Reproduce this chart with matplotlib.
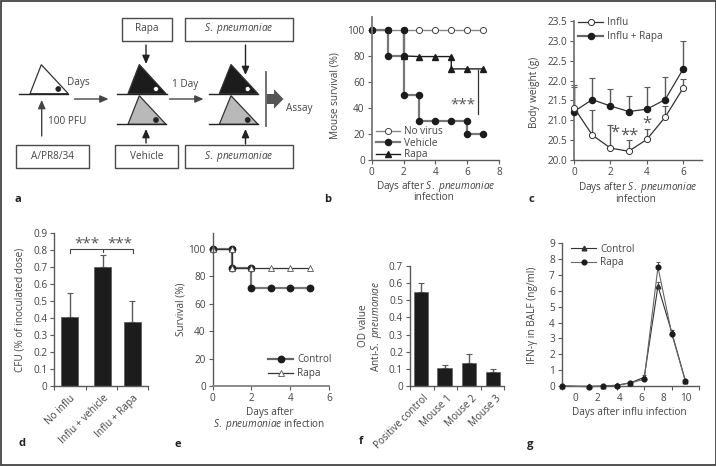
import matplotlib
matplotlib.use('Agg')
import matplotlib.pyplot as plt
from matplotlib.patches import Polygon, Rectangle, Circle

plt.rcParams['font.family'] = ['Open Sans', 'DejaVu Sans']
plt.rcParams['mathtext.fontset'] = 'custom'
plt.rcParams['mathtext.it'] = 'Open Sans:italic'
plt.rcParams['mathtext.rm'] = 'Open Sans'

W, H = 716, 467
TXT = '#444444'
AX = '#5a5a5a'
FS = 7.2
SP = r'$\it{S.\ pneumoniae}$'

# panel b
b_days = [0, 1, 2, 3, 4, 5, 6, 7]
b_novirus = [100, 100, 100, 100, 100, 100, 100, 100]
b_veh_x = [0, 1, 1, 2, 2, 2, 3, 3, 4, 5, 6, 6, 7]
b_veh_y = [100, 100, 80, 80, 100, 50, 50, 30, 30, 30, 30, 20, 20]
b_rapa_x = [2, 3, 4, 5, 5, 6, 7]
b_rapa_y = [80, 79.5, 79.5, 79.5, 70, 70, 70]

# panel c
c_days = [0, 1, 2, 3, 4, 5, 6]
c_influ = [21.32, 20.63, 20.3, 20.22, 20.52, 21.08, 21.82]
c_influ_top = [21.9, 21.27, 20.87, 20.5, 20.78, 21.35, 22.05]
c_rapa = [21.22, 21.52, 21.36, 21.22, 21.28, 21.52, 22.3]
c_rapa_top = [21.85, 22.07, 21.78, 21.62, 21.84, 22.1, 23.0]

# panel d
d_names = ['No influ', 'Influ + vehicle', 'Influ + Rapa']
d_vals = [0.405, 0.70, 0.38]
d_top = [0.55, 0.775, 0.50]

# panel e
e_ctrl_x = [0, 1, 1, 2, 2, 3, 4, 5]
e_ctrl_y = [100, 100, 85.7, 85.7, 71.4, 71.4, 71.4, 71.4]
e_rapa_x = [0, 1, 1, 2, 3, 4, 5]
e_rapa_y = [100, 100, 85.7, 85.7, 85.7, 85.7, 85.7]

# panel f
f_names = ['Positive control', 'Mouse 1', 'Mouse 2', 'Mouse 3']
f_vals = [0.55, 0.105, 0.135, 0.08]
f_top = [0.60, 0.12, 0.185, 0.097]

# panel g
g_days = [-1.25, 1.25, 2.5, 3.75, 5, 6.25, 7.5, 8.75, 10]
g_ctrl = [0, -0.02, 0, 0.05, 0.2, 0.55, 6.3, 3.4, 0.3]
g_ctrl_top = [0, 0, 0.03, 0.1, 0.25, 0.7, 6.55, 3.55, 0.35]
g_rapa = [0, -0.05, -0.02, 0.03, 0.2, 0.42, 7.5, 3.3, 0.3]
g_rapa_top = [0, 0, 0, 0.05, 0.25, 0.5, 7.8, 3.4, 0.35]


def make_ax(x0, x1, ytop, ybot):
    ax = fig.add_axes([x0 / W, 1 - ybot / H, (x1 - x0) / W, (ybot - ytop) / H])
    ax.patch.set_alpha(0)
    for s in ['top', 'right']:
        ax.spines[s].set_visible(False)
    for s in ['left', 'bottom']:
        ax.spines[s].set_color(AX)
        ax.spines[s].set_linewidth(1.0)
    ax.tick_params(labelsize=FS, labelcolor=TXT, color=AX, length=3, width=0.8, pad=2)
    return ax


def up_err(ax, x, y, top, color=AX, cap=2, lw=1.0):
    for xi, yi, ti in zip(x, y, top):
        ax.errorbar(xi, yi, yerr=[[0], [ti - yi]], color=color, capsize=cap, elinewidth=lw,
                    capthick=0.8, clip_on=False, zorder=1)


def add_legend(ax, handles, labels, x, y, spacing):
    ax.legend(handles=handles, labels=labels, loc='upper left', bbox_to_anchor=(x / W, 1 - y / H),
              bbox_transform=fig.transFigure, frameon=False, fontsize=FS, labelcolor=TXT, handlelength=2.45,
              handletextpad=0.42, labelspacing=spacing, borderpad=0, borderaxespad=0)


fig = plt.figure(figsize=(W / 100, H / 100), dpi=100)

# overlay in pixel coordinates for the text and the scheme
ov = fig.add_axes([0, 0, 1, 1], zorder=10)
ov.set_xlim(0, W)
ov.set_ylim(H, 0)
ov.axis('off')
ov.patch.set_alpha(0)


def t(x, y, s, **kw):
    kw.setdefault('fontsize', FS)
    kw.setdefault('color', TXT)
    ov.text(x, y, s, ha='center', va='center', **kw)


# panel a scheme
def box(x0, y0, x1, y1, s):
    ov.add_patch(Rectangle((x0, y0), x1 - x0, y1 - y0, fc='white', ec='#4a4a4a', lw=1.0))
    t((x0 + x1) / 2, (y0 + y1) / 2, s)


def tri(line0, line1, left, apex, right, base, top, fill, dot, dotc):
    ov.plot([line0, line1], [base, base], color='#222222', lw=1.0)
    ov.add_patch(Polygon([(left, base), (apex, top), (right, base)], fc=fill, ec='#333333', lw=0.9))
    ov.add_patch(Circle(dot, 2.5, fc=dotc, ec='#222222', lw=0.5))


def arrow(x0, y0, x1, y1, color='#222222', lw=1.0):
    ov.annotate('', xy=(x1, y1), xytext=(x0, y0),
                arrowprops=dict(arrowstyle='-|>,head_width=0.22,head_length=0.5', color=color,
                                lw=lw, shrinkA=0, shrinkB=0))


box(122, 17.5, 171.5, 40.5, 'Rapa')
box(184.5, 17.5, 292.5, 40.5, SP)
box(15.5, 144.5, 89, 168, 'A/PR8/34')
box(115, 144.5, 178, 168, 'Vehicle')
box(184.5, 144.5, 292.5, 168, SP)

tri(19.3, 68.3, 30, 41.3, 68.3, 93.7, 64.7, 'white', (58.3, 89), '#222222')
tri(116.7, 166.7, 128, 139.3, 166, 93.7, 64.5, '#1c1c1c', (156, 89), 'white')
tri(116.7, 166, 128, 139.3, 166, 124.3, 95.7, '#b9b9b9', (156, 120), '#222222')
tri(208.7, 258.3, 219.3, 231, 258, 93.7, 64.5, '#1c1c1c', (247.7, 89), 'white')
tri(208.7, 258, 219.3, 231, 258, 124.3, 95.7, '#b9b9b9', (247.7, 120), '#222222')

arrow(146, 45, 146, 64)
arrow(245.5, 45, 245.5, 75)
arrow(41.7, 136, 41.7, 100, color='#444444')
arrow(146, 143, 146, 129)
arrow(245.5, 144, 245.5, 129)
arrow(74.5, 99, 108.5, 99, color='#444444')
arrow(169.5, 99, 203.5, 99, color='#444444')
ov.plot([265.7, 265.7], [71.7, 126], color='#666666', lw=1.3)
ov.add_patch(Polygon([(266.5, 94), (274, 94), (274, 89.3), (283.5, 99), (274, 108.7), (274, 104), (266.5, 104)],
                     fc='#555555', ec='none'))
t(78.5, 83, 'Days')
t(67.5, 122, '100 PFU')
t(185, 85, '1 Day')
t(299.5, 108.5, 'Assay')

# panel b
ax = make_ax(371.7, 499, 17, 159.7)
ax.set_xlim(0, 8)
ax.set_ylim(0, 110)
ax.set_xticks([0, 2, 4, 6, 8])
ax.set_yticks([0, 20, 40, 60, 80, 100])
ax.spines['left'].set_color('#777777')
ax.spines['left'].set_linewidth(1.3)
h1, = ax.plot(b_days, b_novirus, '-o', color='#8a8a8a', mfc='white', mec='#444444', mew=0.7, ms=4.4, lw=1.0,
              clip_on=False)
h3, = ax.plot(b_rapa_x, b_rapa_y, '-^', color='#1c1c1c', ms=4.2, lw=1.0, clip_on=False)
ax.plot(b_veh_x, b_veh_y, '-', color='#777777', lw=1.6, clip_on=False)
ax.plot(b_veh_x, b_veh_y, 'o', color='#1c1c1c', ms=4.4, clip_on=False)
h2, = ax.plot([], [], '-o', color='#777777', mfc='#1c1c1c', mec='#1c1c1c', ms=4.4, lw=1.6)
ax.plot([6.65, 6.65], [69.5, 35], color='#333333', lw=0.9)
add_legend(ax, [h1, h2, h3], ['No virus', 'Vehicle', 'Rapa'], 375.7, 126, 0.06)
t(463.3, 105, '***', fontsize=11, color='#555555')
t(335, 95.8, 'Mouse survival (%)', rotation=90)
t(436, 186, 'Days after ' + SP)
t(434, 198, 'infection')

# panel c
ax = make_ax(574, 701.6, 21, 160)
ax.set_xlim(0, 7)
ax.set_ylim(20, 23.5)
ax.set_xticks([0, 2, 4, 6])
ax.set_yticks([20, 20.5, 21, 21.5, 22, 22.5, 23, 23.5])
ax.set_yticklabels(['20.0', '20.5', '21.0', '21.5', '22.0', '22.5', '23.0', '23.5'])
ax.spines['left'].set_color('#777777')
ax.spines['left'].set_linewidth(1.3)
up_err(ax, c_days, c_influ, c_influ_top)
up_err(ax, c_days, c_rapa, c_rapa_top)
h1, = ax.plot(c_days, c_influ, '-o', color='#333333', mfc='white', mec='#333333', mew=0.7, ms=4.4, lw=0.9,
              clip_on=False, zorder=4)
ax.plot(c_days, c_rapa, '-o', color='#333333', mfc='#1c1c1c', mec='#1c1c1c', ms=4.4, lw=0.9,
        clip_on=False, zorder=3)
h2, = ax.plot([], [], '-o', color='#666666', mfc='#1c1c1c', mec='#1c1c1c', ms=4.4, lw=1.6)
add_legend(ax, [h1, h2], ['Influ', 'Influ + Rapa'], 578.3, 17, 0.32)
t(615, 132.5, '*', fontsize=12, color='#555555')
t(629, 136, '**', fontsize=12, color='#555555')
t(646.7, 123.5, '*', fontsize=12, color='#555555')
t(534, 92, 'Body weight (g)', rotation=90)
t(637.7, 187.7, 'Days after ' + SP)
t(636, 200, 'infection')

# panel d
ax = make_ax(54.3, 148.3, 233.3, 386)
ax.set_xlim(0, 3)
ax.set_ylim(0, 0.9)
d_pos = [0.495, 1.548, 2.484]
ax.bar(d_pos, d_vals, width=0.54, color='#1c1c1c', edgecolor='#555555', lw=0.5, zorder=2)
up_err(ax, d_pos, d_vals, d_top)
ax.set_yticks([0, 0.1, 0.2, 0.3, 0.4, 0.5, 0.6, 0.7, 0.8, 0.9])
ax.set_yticklabels(['0', '0.1', '0.2', '0.3', '0.4', '0.5', '0.6', '0.7', '0.8', '0.9'])
ax.set_xticks([0, 1, 2, 3])
ax.set_xticklabels([])
ax.set_xticks(d_pos, minor=True)
ax.set_xticklabels(d_names, minor=True, rotation=45, ha='right', rotation_mode='anchor', fontsize=FS, color=TXT)
ax.tick_params(axis='x', which='minor', length=0, pad=5)
ax.plot([d_pos[0], d_pos[0], d_pos[2] + 0.02, d_pos[2] + 0.02], [0.785, 0.81, 0.81, 0.785], color='#444444', lw=0.8)
ax.plot([d_pos[1], d_pos[1]], [0.79, 0.81], color='#444444', lw=0.8)
t(86.5, 243.5, '***', fontsize=11, color='#555555')
t(120, 243.5, '***', fontsize=11, color='#555555')
t(20, 310, 'CFU (% of inoculated dose)', rotation=90)

# panel e
ax = make_ax(212.7, 329, 233, 386)
ax.set_xlim(0, 6)
ax.set_ylim(0, 111.4)
ax.set_xticks([0, 2, 4, 6])
ax.set_yticks([0, 20, 40, 60, 80, 100])
ax.spines['bottom'].set_color('#8a8a8a')
ax.spines['bottom'].set_linewidth(1.4)
ax.plot(e_ctrl_x, e_ctrl_y, '-', color='#777777', lw=1.6, clip_on=False)
ax.plot(e_ctrl_x, e_ctrl_y, 'o', color='#1c1c1c', ms=4.6, clip_on=False)
h2, = ax.plot(e_rapa_x, e_rapa_y, '-^', color='#333333', mfc='white', mec='#555555', mew=0.6, ms=4.2, lw=0.9,
              clip_on=False)
h1, = ax.plot([], [], '-o', color='#666666', mfc='#1c1c1c', mec='#1c1c1c', ms=4.6, lw=1.6)
add_legend(ax, [h1, h2], ['Control', 'Rapa'], 268.3, 354.5, 0.28)
t(180.7, 309.5, 'Survival (%)', rotation=90)
t(269.3, 412.3, 'Days after')
t(269.3, 424.7, SP + ' infection')

# panel f
ax = make_ax(410, 504.3, 266, 386)
ax.set_xlim(0, 4)
ax.set_ylim(0, 0.7)
f_pos = [0.46, 1.47, 2.49, 3.51]
ax.bar(f_pos, f_vals, width=0.61, color='#1c1c1c', edgecolor='#555555', lw=0.4, zorder=2)
up_err(ax, f_pos, f_vals, f_top)
ax.set_yticks([0, 0.1, 0.2, 0.3, 0.4, 0.5, 0.6, 0.7])
ax.set_yticklabels(['0', '0.1', '0.2', '0.3', '0.4', '0.5', '0.6', '0.7'])
ax.set_xticks([0, 1, 2, 3, 4])
ax.set_xticklabels([])
ax.set_xticks([p + 0.1 for p in f_pos], minor=True)
ax.set_xticklabels(f_names, minor=True, rotation=45, ha='right', rotation_mode='anchor', fontsize=FS, color=TXT)
ax.tick_params(axis='x', which='minor', length=0, pad=5)
t(364, 326, 'OD value', rotation=90)
t(376, 326, 'Anti-' + SP, rotation=90)

# panel g
ax = make_ax(561.7, 699.2, 243.3, 386)
ax.set_xlim(-1.25, 11.25)
ax.set_ylim(0, 9)
ax.set_yticks(range(10))
ax.set_xticks([-1.25, 1.25, 3.75, 6.25, 8.75, 11.25])
ax.set_xticklabels([])
ax.set_xticks([0, 2, 4, 6, 8, 10], minor=True)
ax.set_xticklabels(['0', '2', '4', '6', '8', '10'], minor=True, fontsize=FS, color=TXT)
ax.tick_params(axis='x', which='minor', length=0, pad=5)
up_err(ax, g_days, g_ctrl, g_ctrl_top, cap=1.5, lw=0.7)
up_err(ax, g_days, g_rapa, g_rapa_top, cap=1.5, lw=0.7)
h1, = ax.plot(g_days, g_ctrl, '-^', color='#333333', ms=3.4, lw=0.8, clip_on=False, zorder=3)
h2, = ax.plot(g_days, g_rapa, '-o', color='#666666', mfc='#1c1c1c', mec='#1c1c1c', ms=3.4, lw=0.8,
              clip_on=False, zorder=4)
add_legend(ax, [h1, h2], ['Control', 'Rapa'], 571.3, 243.5, 0.3)
t(532.3, 315, 'IFN-γ in BALF (ng/ml)', rotation=90)
t(629.3, 412.3, 'Days after influ infection')

# panel letters
for x, y, s in [(18, 200, 'a'), (328, 199.5, 'b'), (531.7, 200, 'c'), (21.7, 443.7, 'd'),
                (178.3, 444.3, 'e'), (361, 442, 'f'), (530.3, 444, 'g')]:
    t(x, y, s, fontweight='bold', color='#222222', fontsize=8)

# frame round the figure
ov.add_patch(Rectangle((0.5, 0.5), W - 1, H - 2.5, fc='none', ec='#333333', lw=1.2))

fig.savefig('out.png', dpi=100)
